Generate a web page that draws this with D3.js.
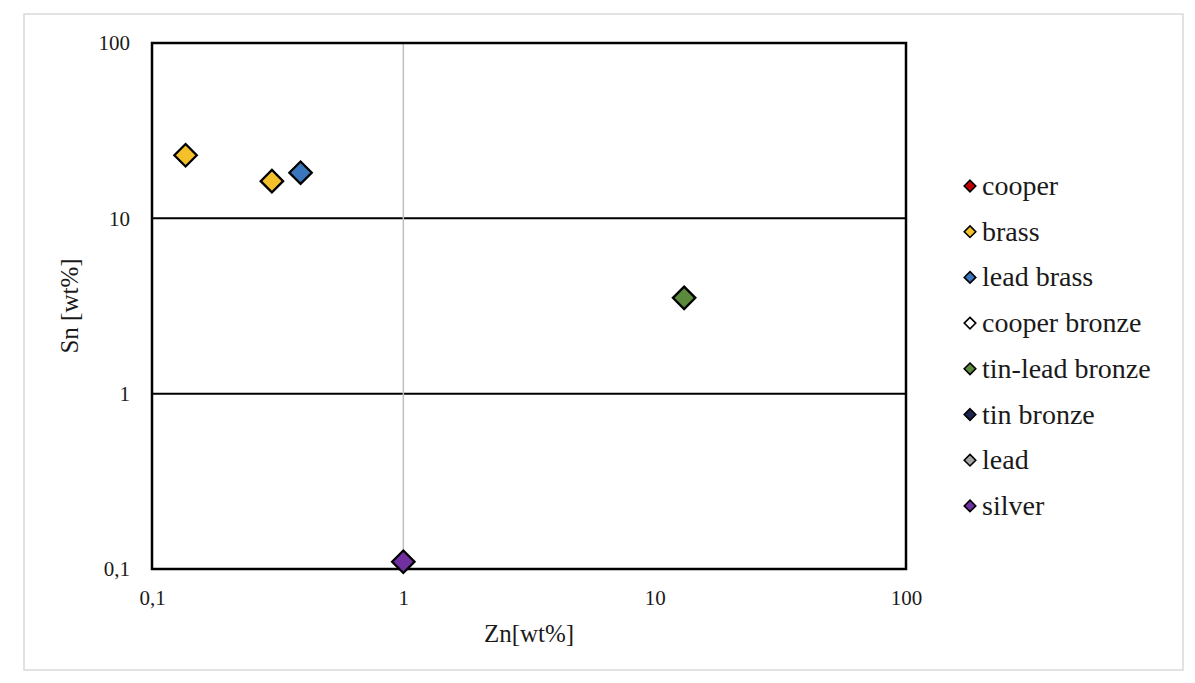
<!DOCTYPE html>
<html>
<head>
<meta charset="utf-8">
<script src="https://cdn.jsdelivr.net/npm/d3@7"></script>
<style>
  body { margin: 0; background: #fff; }
  svg text { font-family: "Liberation Serif", "DejaVu Serif", serif; fill: #1a1a1a; }
</style>
</head>
<body>
<svg id="chart"></svg>
<script>
const width = 1195;
const height = 683;

// legend categories and colours
const categories = ['cooper', 'brass', 'lead brass', 'cooper bronze', 'tin-lead bronze', 'tin bronze', 'lead', 'silver'];
const colors = ['#c00000', '#f5c12a', '#3a76bd', '#ffffff', '#5b8a3c', '#1b2550', '#a6a6a6', '#7030a0'];

// points: Zn, Sn, category
const znValues = [0.136, 0.30, 0.39, 13.1, 1.0];
const snValues = [22.9, 16.3, 18.2, 3.52, 0.110];
const pointCats = ['brass', 'brass', 'lead brass', 'tin-lead bronze', 'silver'];

const tickValues = [0.1, 1, 10, 100];

const serif = '"Liberation Serif", "DejaVu Serif", serif';

const svg = d3.select("#chart")
    .attr("width", width)
    .attr("height", height);

const color = d3.scaleOrdinal().domain(categories).range(colors);

// outer frame
svg.append("rect")
    .attr("x", 24).attr("y", 14)
    .attr("width", 1159).attr("height", 656)
    .attr("fill", "#fff")
    .attr("stroke", "#d9d9d9")
    .attr("stroke-width", 1.5);

const plot = {left: 152, right: 906, top: 43, bottom: 569};

const x = d3.scaleLog().domain([0.1, 100]).range([plot.left, plot.right]);
const y = d3.scaleLog().domain([0.1, 100]).range([plot.bottom, plot.top]);

const fmt = d => String(d).replace('.', ',');

// horizontal gridlines
svg.append("g")
    .selectAll("line")
    .data([1, 10])
    .enter()
    .append("line")
    .attr("x1", plot.left).attr("x2", plot.right)
    .attr("y1", d => y(d)).attr("y2", d => y(d))
    .attr("stroke", "#000")
    .attr("stroke-width", 2);

// vertical axis line crossing at Zn = 1
svg.append("line")
    .attr("x1", x(1)).attr("x2", x(1))
    .attr("y1", plot.top).attr("y2", plot.bottom)
    .attr("stroke", "#bfbfbf")
    .attr("stroke-width", 1.5);

// plot border
svg.append("rect")
    .attr("x", plot.left).attr("y", plot.top)
    .attr("width", plot.right - plot.left)
    .attr("height", plot.bottom - plot.top)
    .attr("fill", "none")
    .attr("stroke", "#000")
    .attr("stroke-width", 2.5);

// axes (labels only)
const xAxis = svg.append("g")
    .attr("transform", `translate(0,${plot.bottom + 18})`)
    .call(d3.axisBottom(x).tickValues(tickValues).tickFormat(fmt).tickSize(0));
xAxis.attr("font-family", serif).attr("font-size", 21);
xAxis.select(".domain").remove();
xAxis.selectAll("text").attr("fill", "#1a1a1a");

const yAxis = svg.append("g")
    .attr("transform", `translate(${plot.left - 19},0)`)
    .call(d3.axisLeft(y).tickValues(tickValues).tickFormat(fmt).tickSize(0));
yAxis.attr("font-family", serif).attr("font-size", 21);
yAxis.select(".domain").remove();
yAxis.selectAll("text").attr("fill", "#1a1a1a");

// axis titles
svg.append("text")
    .attr("x", (plot.left + plot.right) / 2)
    .attr("y", 642)
    .attr("text-anchor", "middle")
    .style("font-size", "25px")
    .text("Zn[wt%]");

svg.append("text")
    .attr("transform", `translate(78,${(plot.top + plot.bottom) / 2}) rotate(-90)`)
    .attr("text-anchor", "middle")
    .style("font-size", "25px")
    .text("Sn [wt%]");

// data points
const points = znValues.map((v, i) => ({zn: v, sn: snValues[i], cat: pointCats[i]}));
const diamond = d3.symbol().type(d3.symbolDiamond2).size(320);

svg.append("g")
    .selectAll("path")
    .data(points)
    .enter()
    .append("path")
    .attr("d", diamond)
    .attr("transform", d => `translate(${x(d.zn)},${y(d.sn)})`)
    .attr("fill", d => color(d.cat))
    .attr("stroke", "#000")
    .attr("stroke-width", 2.3);

// legend
const legend = svg.append("g").attr("transform", "translate(970,186)");
const item = legend.selectAll("g")
    .data(categories)
    .enter()
    .append("g")
    .attr("transform", (d, i) => `translate(0,${i * 45.7})`);
item.append("path")
    .attr("d", d3.symbol().type(d3.symbolDiamond2).size(85))
    .attr("fill", d => color(d))
    .attr("stroke", "#000")
    .attr("stroke-width", 1.6);
item.append("text")
    .attr("x", 12)
    .attr("y", 9)
    .style("font-size", "28px")
    .text(d => d);
</script>
</body>
</html>
